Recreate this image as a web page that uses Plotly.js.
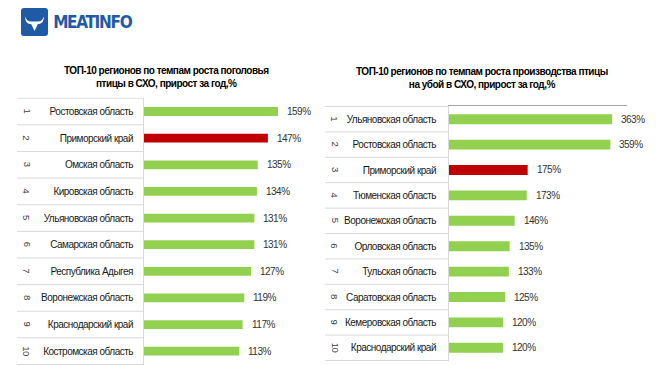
<!DOCTYPE html>
<html>
<head>
<meta charset="utf-8">
<script src="https://cdn.plot.ly/plotly-3.0.1.min.js"></script>
<style>
html,body{margin:0;padding:0;background:#fff;}
#chart{width:661px;height:365px;}
svg text{letter-spacing:-0.5px;}
#chart .annotation[data-index="0"] text{letter-spacing:-1.3px;}
</style>
</head>
<body>
<div id="chart"></div>
<script>
// ---- Data ----
const ranks = [1, 2, 3, 4, 5, 6, 7, 8, 9, 10];
const leftTitle = 'ТОП-10 регионов по темпам роста поголовья<br>птицы в СХО, прирост за год,%';
const leftRegions = ['Ростовская область', 'Приморский край', 'Омская область', 'Кировская область',
  'Ульяновская область', 'Самарская область', 'Республика Адыгея', 'Воронежская область',
  'Краснодарский край', 'Костромская область'];
const leftValues = [159, 147, 135, 134, 131, 131, 127, 119, 117, 113];

const rightTitle = 'ТОП-10 регионов по темпам роста производства птицы<br>на убой в СХО, прирост за год,%';
const rightRegions = ['Ульяновская область', 'Ростовская область', 'Приморский край', 'Тюменская область',
  'Воронежская область', 'Орловская область', 'Тульская область', 'Саратовская область',
  'Кемеровская область', 'Краснодарский край'];
const rightValues = [363, 359, 175, 173, 146, 135, 133, 125, 120, 120];

const highlightRegion = 'Приморский край';

// ---- Styling ----
const W = 661, H = 365;
const GREEN = '#92d050', RED = '#c00000';
const FONT = '"Liberation Sans", Arial, sans-serif';
const LOGOFONT = '"DejaVu Sans Condensed", "Liberation Sans", sans-serif';
const px = v => v / W, py = v => 1 - v / H;
const colorsFor = regs => regs.map(r => r === highlightRegion ? RED : GREEN);

const traces = [
  {type: 'bar', orientation: 'h', x: leftValues, y: leftRegions, xaxis: 'x', yaxis: 'y',
   marker: {color: colorsFor(leftRegions)}, width: 0.33, hoverinfo: 'skip'},
  {type: 'bar', orientation: 'h', x: rightValues, y: rightRegions, xaxis: 'x2', yaxis: 'y2',
   marker: {color: colorsFor(rightRegions)}, width: 0.39, hoverinfo: 'skip'}
];

const annotations = [];
const shapes = [];

// Logo text (index 0)
annotations.push({xref: 'paper', yref: 'paper', x: px(48), y: py(22), text: '<b>MEATINFO</b>', showarrow: false,
  xanchor: 'left', yanchor: 'middle', font: {family: LOGOFONT, size: 17, color: '#1f5aa6'}});

function addPanel(regions, values, xr, yr, rankX, divX0, divX1) {
  regions.forEach((r, i) => {
    annotations.push({xref: xr, yref: yr, x: values[i], y: r, text: values[i] + '%', showarrow: false,
      xanchor: 'left', xshift: 7, font: {family: FONT, size: 10, color: '#333333'}});
    annotations.push({xref: 'paper', yref: yr, x: px(rankX), y: r, text: String(ranks[i]), showarrow: false,
      textangle: 90, xanchor: 'center', font: {family: FONT, size: 9.5, color: '#404040'}});
  });
  for (let i = 0; i <= regions.length; i++) {
    shapes.push({type: 'line', xref: 'paper', yref: yr, x0: px(divX0), x1: px(divX1), y0: i - 0.5, y1: i - 0.5,
      line: {color: '#d9d9d9', width: 1}});
  }
}
addPanel(leftRegions, leftValues, 'x', 'y', 27, 17, 143);
addPanel(rightRegions, rightValues, 'x2', 'y2', 335, 325, 449);

annotations.push({xref: 'paper', yref: 'paper', x: px(166), y: py(77.5), text: '<b>' + leftTitle + '</b>',
  showarrow: false, xanchor: 'center', yanchor: 'middle', align: 'center',
  font: {family: FONT, size: 10, color: '#000'}});
annotations.push({xref: 'paper', yref: 'paper', x: px(482), y: py(78), text: '<b>' + rightTitle + '</b>',
  showarrow: false, xanchor: 'center', yanchor: 'middle', align: 'center',
  font: {family: FONT, size: 10, color: '#000'}});

const logoSvg = '<svg xmlns="http://www.w3.org/2000/svg" width="28" height="28" viewBox="0 0 28 28">' +
  '<rect x="0" y="0" width="28" height="28" rx="3" fill="#1f5aa6"/>' +
  '<path d="M4,8 Q5.5,13.5 11,13.5 L17,13.5 Q22.5,13.5 24,8 Q23.5,15.5 19,16 L17.5,16 L14,23 L10.5,16 L9,16 Q4.5,15.5 4,8 Z" fill="#fff"/>' +
  '</svg>';

const layout = {
  width: W, height: H,
  margin: {l: 0, r: 0, t: 0, b: 0},
  paper_bgcolor: '#fff', plot_bgcolor: 'rgba(0,0,0,0)',
  showlegend: false,
  font: {family: FONT, size: 10, color: '#262626'},
  xaxis: {domain: [px(144), px(310)], range: [0, 197], anchor: 'y', showgrid: false, zeroline: false,
    showticklabels: false, showline: false, ticks: '', fixedrange: true},
  yaxis: {domain: [0, py(97.7)], anchor: 'x', type: 'category', autorange: 'reversed', showgrid: false,
    zeroline: false, showline: true, linecolor: '#d9d9d9', linewidth: 1, ticks: 'outside', ticklen: 8,
    tickcolor: 'rgba(0,0,0,0)', tickfont: {family: FONT, size: 10, color: '#1a1a1a'}},
  xaxis2: {domain: [px(449), px(627)], range: [0, 396], anchor: 'y2', side: 'top', showgrid: false,
    zeroline: false, showticklabels: false, showline: true, linecolor: '#a6a6a6', linewidth: 1, ticks: ''},
  yaxis2: {domain: [4 / H, py(106)], anchor: 'x2', type: 'category', autorange: 'reversed', showgrid: false,
    zeroline: false, showline: true, linecolor: '#d9d9d9', linewidth: 1, ticks: 'outside', ticklen: 10,
    tickcolor: 'rgba(0,0,0,0)', tickfont: {family: FONT, size: 10, color: '#1a1a1a'}},
  annotations: annotations,
  shapes: shapes,
  images: [{source: 'data:image/svg+xml;charset=utf-8,' + encodeURIComponent(logoSvg),
    xref: 'paper', yref: 'paper', x: px(21), y: py(8), sizex: 27 / W, sizey: 28 / H,
    xanchor: 'left', yanchor: 'top', sizing: 'stretch', layer: 'above'}]
};

Plotly.newPlot('chart', traces, layout, {staticPlot: true, displayModeBar: false});
</script>
</body>
</html>
